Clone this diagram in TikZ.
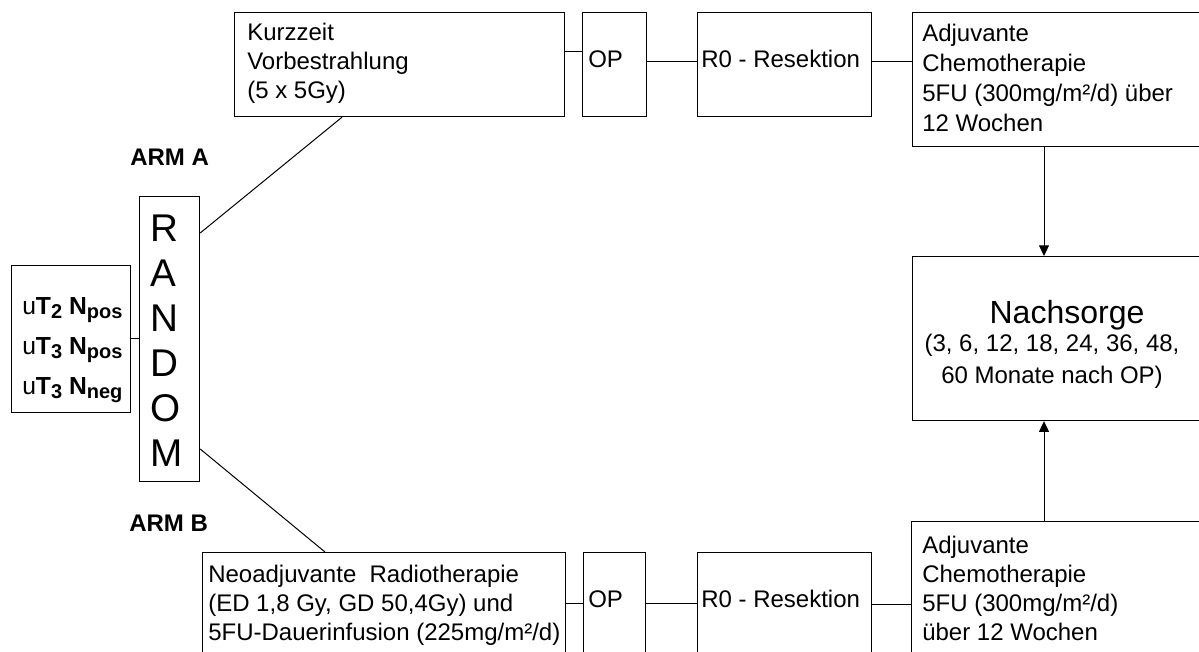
\documentclass[tikz,border=0pt]{standalone}
\usepackage{fontspec}
\setmainfont{Liberation Sans}
\usetikzlibrary{arrows.meta}
\newcommand\lsub[1]{\raisebox{-3pt}{\fontsize{15}{16}\selectfont\bfseries #1}}
\begin{document}
\begin{tikzpicture}[x=0.75pt,y=-0.75pt,
  box/.style={draw, line width=0.9pt, inner sep=0pt, anchor=north west, rectangle},
  txt/.style={font=\fontsize{18}{21.75}\selectfont, align=left, inner sep=0pt, anchor=base west},
  link/.style={line width=0.75pt},
  arr/.style={line width=0.75pt, -{Triangle[length=8pt,width=7.5pt]}}]
\useasboundingbox (0,0) rectangle (1199,652);
\clip (0,0) rectangle (1199,652);
% boxes
\node[box, minimum width=247.5pt, minimum height=78pt] (kurz) at (234,12) {};
\node[box, minimum width=48pt, minimum height=78pt] (opA) at (582,12) {};
\node[box, minimum width=130.5pt, minimum height=78pt] (r0A) at (697,12) {};
\node[box, minimum width=227.25pt, minimum height=100.5pt] (adjA) at (912,12) {};
\node[box, minimum width=227.25pt, minimum height=123pt] (nach) at (912,256) {};
\node[box, minimum width=227.25pt, minimum height=111.75pt] (adjB) at (911,521) {};
\node[box, minimum width=130.5pt, minimum height=88.5pt] (r0B) at (697,552) {};
\node[box, minimum width=46.5pt, minimum height=88.5pt] (opB) at (583,552) {};
\node[box, minimum width=272.25pt, minimum height=88.5pt] (neo) at (202,552) {};
\node[box, minimum width=45pt, minimum height=213.75pt] (rand) at (139,196) {};
\node[box, minimum width=89.25pt, minimum height=110.25pt] (ut) at (11,265) {};
% texts (anchor = baseline of the last line)
\node[txt] (kurzT) at (247,99) {Kurzzeit\\Vorbestrahlung\\(5 x 5Gy)};
\node[txt] (opAT) at (588,68) {OP};
\node[txt] (r0AT) at (701,68) {R0 - Resektion};
\node[txt, font=\fontsize{18}{22.5}\selectfont] (adjAT) at (922,132) {Adjuvante\\Chemotherapie\\5FU (300mg/m²/d) über\\12 Wochen};
\node[inner sep=0pt, anchor=base, font=\fontsize{24}{28}\selectfont] (nachT) at (1067,324) {Nachsorge};
\node[inner sep=0pt, anchor=base, align=center, font=\fontsize{18}{24}\selectfont] (nachS) at (1052,383) {(3, 6, 12, 18, 24, 36, 48,\\60 Monate nach OP)};
\node[txt] (adjBT) at (922,640) {Adjuvante\\Chemotherapie\\5FU (300mg/m²/d)\\über 12 Wochen};
\node[txt] (r0BT) at (701,607) {R0 - Resektion};
\node[txt] (opBT) at (588,607) {OP};
\node[txt] (neoT) at (208,640) {Neoadjuvante\ \ Radiotherapie\\(ED 1,8 Gy, GD 50,4Gy) und\\5FU-Dauerinfusion (225mg/m²/d)};
\node[txt, font=\fontsize{29}{33.75}\selectfont] (randT) at (150,466) {R\\A\\N\\D\\O\\M};
\node[txt, font=\fontsize{18.5}{30}\selectfont] (utT) at (22,394) {u\textbf{T}\lsub{2} \textbf{N}\lsub{pos}\\u\textbf{T}\lsub{3} \textbf{N}\lsub{pos}\\u\textbf{T}\lsub{3} \textbf{N}\lsub{neg}};
\node[txt, font=\fontsize{18}{21.75}\selectfont\bfseries] (armA) at (130,166) {ARM A};
\node[txt, font=\fontsize{18}{21.75}\selectfont\bfseries] (armB) at (129,531) {ARM B};
% connectors
\draw[link] (ut.east |- 0,338) -- (rand.west |- 0,338);
\draw[link] (rand.east |- 0,233) -- (kurz.south -| 342,0);
\draw[link] (rand.east |- 0,449) -- (neo.north -| 325,0);
\draw[link] (kurz.east |- 0,52) -- (opA.west |- 0,52);
\draw[link] (opA.east |- 0,62) -- (r0A.west |- 0,62);
\draw[link] (r0A.east |- 0,62) -- (adjA.west |- 0,62);
\draw[link] (neo.east |- 0,603) -- (opB.west |- 0,603);
\draw[link] (opB.east |- 0,603) -- (r0B.west |- 0,603);
\draw[link] (r0B.east |- 0,604) -- (adjB.west |- 0,604);
\draw[arr] (adjA.south -| 1044,0) -- (nach.north -| 1044,0);
\draw[arr] (adjB.north -| 1044,0) -- (nach.south -| 1044,0);
\end{tikzpicture}
\end{document}
